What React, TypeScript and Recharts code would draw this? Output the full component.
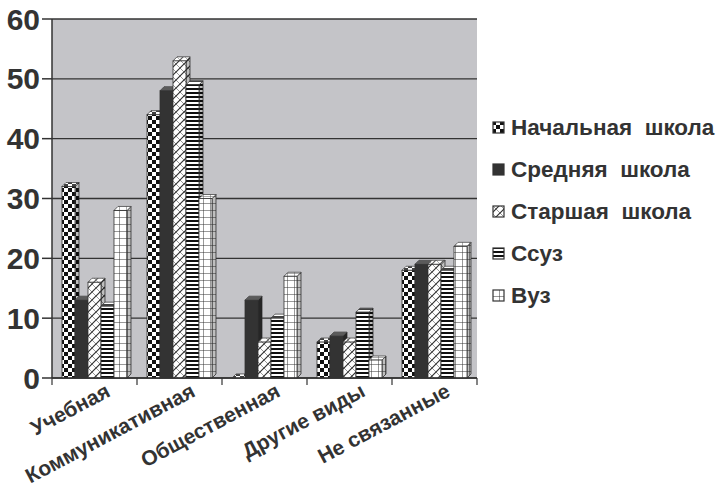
import { BarChart, Bar, XAxis, YAxis, CartesianGrid } from "recharts";

const categories = ["Учебная", "Коммуникативная", "Общественная", "Другие виды", "Не связанные"];
const seriesNames = ["Начальная  школа", "Средняя  школа", "Старшая  школа", "Ссуз", "Вуз"];
const nachalnaya = [32, 44, 0, 6, 18];
const srednyaya = [13, 48, 13, 7, 19];
const starshaya = [16, 53, 6, 6, 19];
const ssuz = [12, 49, 10, 11, 18];
const vuz = [28, 30, 17, 3, 22];
const yTicks = [0, 10, 20, 30, 40, 50, 60];

const seriesKeys = ["nach", "sred", "star", "ssuz", "vuz"];
const seriesFills = ["url(#pNach)", "#333333", "url(#pStar)", "url(#pSsuz)", "url(#pVuz)"];

const data = categories.map((name, i) => ({
  name,
  nach: nachalnaya[i],
  sred: srednyaya[i],
  star: starshaya[i],
  ssuz: ssuz[i],
  vuz: vuz[i]
}));

const FONT = "Arial, 'Liberation Sans', sans-serif";
const INK = "#333333";

// псевдо-3D столбик: лицевая грань + верх + боковина
const Bar3D = (props: any) => {
  const { x, y, width, height, fill } = props;
  if (x == null || y == null) return null;
  const d = 4;
  const h = Math.max(height || 0, 0);
  const top = `M${x},${y} L${x + d},${y - d} L${x + width + d},${y - d} L${x + width},${y} Z`;
  const side = `M${x + width},${y} L${x + width + d},${y - d} L${x + width + d},${y + h - d} L${x + width},${y + h} Z`;
  return (
    <g>
      <path d={side} fill={fill} stroke={INK} strokeWidth={0.8} />
      <path d={side} fill="#000" fillOpacity={0.25} />
      <path d={top} fill={fill} stroke={INK} strokeWidth={0.8} />
      <path d={top} fill="#fff" fillOpacity={0.2} />
      <rect x={x} y={y} width={width} height={h} fill={fill} stroke={INK} strokeWidth={0.8} />
    </g>
  );
};

const HALF_BAND = (723 - 52 - 246) / categories.length / 2;

const XTick = (props: any) => {
  const { x, y, payload, index } = props;
  const tx = x + 10;
  const ty = y - 4;
  const axisY = y - 8;
  return (
    <g>
      <line x1={x - HALF_BAND} y1={axisY} x2={x - HALF_BAND} y2={axisY + 7} stroke={INK} strokeWidth={1.2} />
      {index === categories.length - 1 && (
        <line x1={x + HALF_BAND} y1={axisY} x2={x + HALF_BAND} y2={axisY + 7} stroke={INK} strokeWidth={1.2} />
      )}
      <text
        x={tx}
        y={ty}
        transform={`rotate(-28, ${tx}, ${ty})`}
        textAnchor="end"
        dominantBaseline="hanging"
        fontFamily={FONT}
        fontWeight="bold"
        fontSize={21}
        fill={INK}
      >
        {payload.value}
      </text>
    </g>
  );
};

function Patterns() {
  return (
    <defs>
      <pattern id="pNach" width="8" height="8" patternUnits="userSpaceOnUse">
        <rect width="8" height="8" fill="#fff" />
        <rect x="0" y="0" width="4" height="4" fill="#111" />
        <rect x="4" y="4" width="4" height="4" fill="#111" />
      </pattern>
      <pattern id="pStar" width="8" height="8" patternUnits="userSpaceOnUse">
        <rect width="8" height="8" fill="#fff" />
        <path d="M0,8 L8,0 M-2,2 L2,-2 M6,10 L10,6" stroke={INK} strokeWidth="1.2" />
        <path d="M0,0 L8,8" stroke={INK} strokeWidth="0.5" />
      </pattern>
      <pattern id="pSsuz" width="6" height="4" patternUnits="userSpaceOnUse">
        <rect width="6" height="4" fill="#fff" />
        <rect x="0" y="0" width="6" height="2" fill="#111" />
      </pattern>
      <pattern id="pVuz" width="7" height="7" patternUnits="userSpaceOnUse">
        <rect width="7" height="7" fill="#fff" />
        <path d="M0,0 L7,0 M0,0 L0,7" stroke={INK} strokeWidth="1" />
      </pattern>
    </defs>
  );
}

function LegendBox() {
  return (
    <div
      style={{
        position: "absolute",
        left: 492,
        top: 107,
        fontFamily: FONT,
        fontWeight: "bold",
        fontSize: 22.5,
        color: INK
      }}
    >
      {seriesNames.map((name, i) => (
        <div key={name} style={{ height: 42, display: "flex", alignItems: "center", whiteSpace: "pre" }}>
          <svg width={14} height={14} style={{ marginRight: 5 }}>
            <rect x={1} y={1} width={11} height={11} fill={seriesFills[i]} stroke={INK} strokeWidth={1.2} />
          </svg>
          {name}
        </div>
      ))}
    </div>
  );
}

export default function App() {
  return (
    <div style={{ position: "absolute", left: 0, top: 0, width: 723, height: 487, background: "#fff" }}>
      <BarChart
        width={723}
        height={487}
        data={data}
        margin={{ top: 19, right: 246, bottom: 0, left: 0 }}
        barSize={13}
        barGap={0}
      >
        <Patterns />
        <CartesianGrid vertical={false} fill="#c4c4c8" fillOpacity={1} stroke={INK} strokeWidth={1.4} />
        <XAxis
          dataKey="name"
          interval={0}
          tickLine={false}
          axisLine={{ stroke: INK, strokeWidth: 1.5 }}
          tick={<XTick />}
          height={109}
        />
        <YAxis
          domain={[0, 60]}
          ticks={yTicks}
          interval={0}
          width={52}
          tickSize={10}
          tickLine={{ stroke: INK, strokeWidth: 1.5 }}
          axisLine={{ stroke: INK, strokeWidth: 1.5 }}
          tick={{ fill: INK, fontSize: 30, fontWeight: "bold", fontFamily: FONT }}
        />
        {seriesKeys.map((key, i) => (
          <Bar
            key={key}
            dataKey={key}
            name={seriesNames[i]}
            fill={seriesFills[i]}
            shape={<Bar3D />}
            isAnimationActive={false}
          />
        ))}
      </BarChart>
      <LegendBox />
    </div>
  );
}
